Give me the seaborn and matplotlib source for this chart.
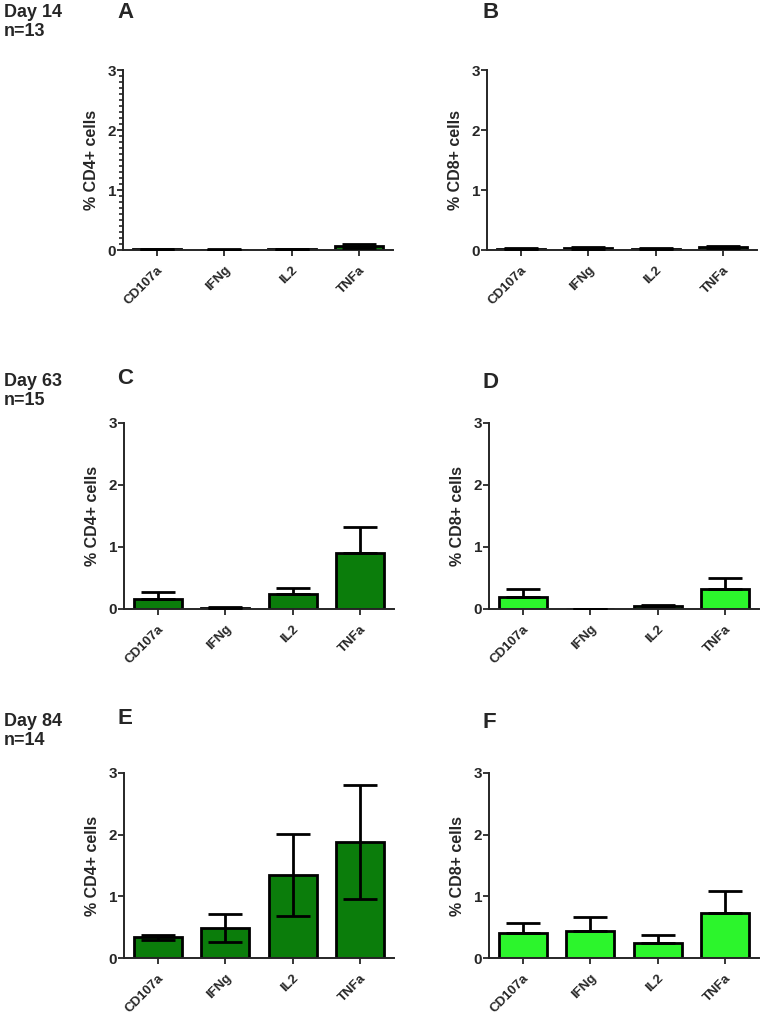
import seaborn as sns
import matplotlib.pyplot as plt
import pandas as pd
from matplotlib.ticker import MultipleLocator

sns.set_style("ticks")
plt.rcParams['font.family'] = ['Liberation Sans', 'DejaVu Sans']
plt.rcParams['font.weight'] = 'bold'

cytokines = ["CD107a", "IFNg", "IL2", "TNFa"]

# Day 14 (n=13)
a_cd4 = [0.01, 0.005, 0.012, 0.07]
a_cd4_err = [0.01, 0.005, 0.01, 0.03]
b_cd8 = [0.02, 0.03, 0.02, 0.05]
b_cd8_err = [0.01, 0.015, 0.01, 0.02]
# Day 63 (n=15)
c_cd4 = [0.16, 0.02, 0.24, 0.91]
c_cd4_err = [0.11, 0.01, 0.10, 0.41]
d_cd8 = [0.19, 0.005, 0.05, 0.32]
d_cd8_err = [0.13, 0.0, 0.02, 0.18]
# Day 84 (n=14)
e_cd4 = [0.335, 0.49, 1.34, 1.88]
e_cd4_err = [0.045, 0.23, 0.665, 0.93]
f_cd8 = [0.40, 0.44, 0.25, 0.735]
f_cd8_err = [0.16, 0.225, 0.13, 0.345]

dark_green = "#0b7d0b"
light_green = "#2cf52c"

fig = plt.figure(figsize=(7.72, 10.15), dpi=100)
W, H = 772, 1015


def add_ax(left, top_px, bottom_px, width=270):
    return fig.add_axes([left / W, (H - bottom_px) / H, width / W, (bottom_px - top_px) / H])


panels = [
    # letter, values, errors, color, ylabel, axis box, letter pos, two-sided errors, minor ticks
    ("A", a_cd4, a_cd4_err, dark_green, "% CD4+ cells", (123, 70, 250), (117, 13), True, True),
    ("B", b_cd8, b_cd8_err, dark_green, "% CD8+ cells", (487, 70, 250), (482, 13), True, False),
    ("C", c_cd4, c_cd4_err, dark_green, "% CD4+ cells", (124, 423, 609), (117, 378), False, False),
    ("D", d_cd8, d_cd8_err, light_green, "% CD8+ cells", (489, 423, 609), (482, 383), False, False),
    ("E", e_cd4, e_cd4_err, dark_green, "% CD4+ cells", (124, 773, 958), (117, 719), True, False),
    ("F", f_cd8, f_cd8_err, light_green, "% CD8+ cells", (489, 773, 958), (482, 723), False, False),
]

for letter, vals, errs, color, ylab, box, lpos, both, minor in panels:
    ax = add_ax(*box)
    df = pd.DataFrame({"cytokine": cytokines, "value": vals})
    sns.barplot(data=df, x="cytokine", y="value", color=color, width=0.71,
                edgecolor="black", linewidth=2.0, saturation=1, errorbar=None, ax=ax)
    lower = errs if both else [0] * len(errs)
    ax.errorbar(range(len(cytokines)), vals, yerr=[lower, errs], fmt="none",
                ecolor="black", elinewidth=2.0, capsize=12, capthick=2.0, zorder=3)
    ax.set_xlim(-0.5, 3.5)
    ax.set_ylim(0, 3)
    ax.set_yticks([0, 1, 2, 3])
    if minor:
        ax.yaxis.set_minor_locator(MultipleLocator(0.1))
        ax.tick_params(axis="y", which="minor", length=3, width=1.2)
    ax.set_xlabel("")
    ax.set_ylabel(ylab, fontsize=11.5, fontweight="bold", labelpad=6)
    ax.set_xticks(range(len(cytokines)))
    ax.set_xticklabels(cytokines, rotation=45, ha="right", rotation_mode="anchor",
                       fontsize=9.5, fontweight="bold")
    ax.tick_params(axis="y", labelsize=11, length=4, width=1.3, pad=1)
    ax.tick_params(axis="x", length=4, width=1.3, pad=6)
    for t in ax.get_yticklabels():
        t.set_fontweight("bold")
    sns.despine(ax=ax)
    for s in ["left", "bottom"]:
        ax.spines[s].set_linewidth(1.4)
    fig.text(lpos[0] / W, 1 - lpos[1] / H, letter,
             fontsize=16, fontweight="bold", va="center", ha="left")

for y, day, n in [(4, "Day 14", "n=13"), (373, "Day 63", "n=15"), (713, "Day 84", "n=14")]:
    fig.text(4 / W, 1 - y / H, day + "\n" + n, fontsize=13, fontweight="bold",
             va="top", ha="left", linespacing=1.15)

fig.savefig("out.png", dpi=100)
